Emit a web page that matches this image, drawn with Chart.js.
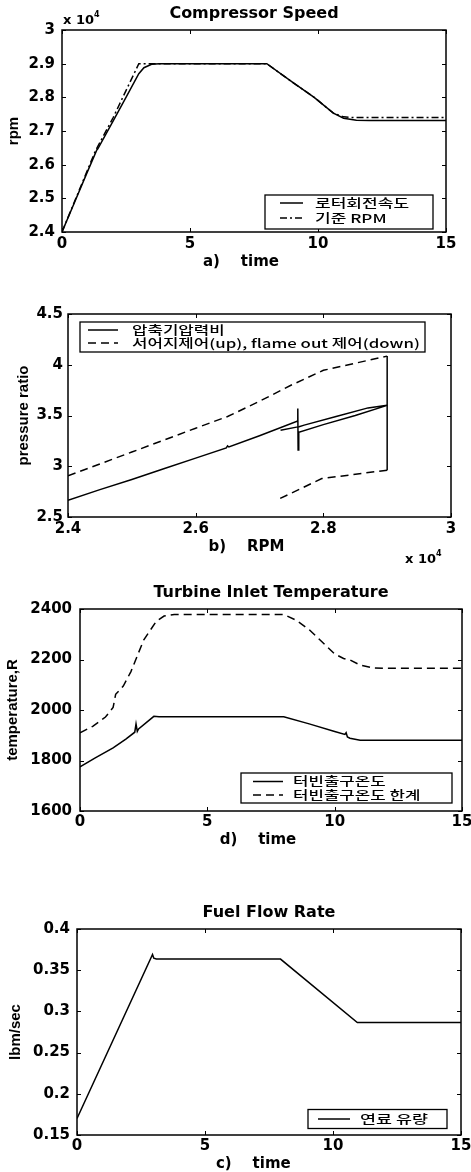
<!DOCTYPE html>
<html><head><meta charset="utf-8">
<script src="https://cdn.jsdelivr.net/npm/chart.js@4.4.0/dist/chart.umd.min.js"></script>
<style>
html,body{margin:0;padding:0;background:#fff;overflow:hidden;width:471px;height:1172px;}
.p{position:absolute;left:0;width:471px;}
canvas{display:block;}
</style></head><body>
<div class="p" style="top:0px"><canvas id="c1" width="471" height="275"></canvas></div>
<div class="p" style="top:290px"><canvas id="c2" width="471" height="280"></canvas></div>
<div class="p" style="top:570px"><canvas id="c3" width="471" height="285"></canvas></div>
<div class="p" style="top:860px"><canvas id="c4" width="471" height="312"></canvas></div>
<script>
// ---------- (a) Compressor Speed ----------
const timeRotor = [0, 0.5, 1.0, 1.36, 1.4, 2.0, 2.5, 3.0, 3.2, 3.5, 3.8, 8.0, 9.0, 9.85, 10.6, 11.0, 11.5, 12.0, 15];
const rpmRotor  = [24000, 24900, 25800, 26440, 26470, 27300, 28000, 28700, 28880, 28980, 29000, 29000, 28450, 28000, 27530, 27380, 27320, 27310, 27310];
const timeRefRpm = [0, 1.3, 2.0, 2.5, 3.0, 8.0, 9.0, 9.85, 10.6, 11.0, 11.4, 15];
const rpmRef     = [24000, 26400, 27400, 28200, 29000, 29000, 28450, 28000, 27530, 27420, 27400, 27400];
const labelsA = ['로터회전속도', '기준 RPM'];

// ---------- (b) pressure ratio vs RPM ----------
const rpmPR = [24000, 24500, 25000, 25500, 26000, 26480, 26500, 26520, 27000, 27600, 27600, 27605, 27615, 28000, 28500, 29000, 28700, 28200, 27700, 27620, 27600, 27330];
const valPR = [2.665, 2.77, 2.87, 2.975, 3.08, 3.18, 3.2, 3.19, 3.3, 3.447, 3.57, 3.16, 3.335, 3.41, 3.50, 3.60, 3.575, 3.49, 3.405, 3.39, 3.388, 3.355];
const rpmLimit = [24000, 25000, 26000, 26500, 27000, 27500, 28000, 28500, 29000, 29000, 27976, 27650, 27320];
const valLimit = [2.906, 3.14, 3.375, 3.49, 3.64, 3.80, 3.945, 4.015, 4.085, 2.961, 2.879, 2.78, 2.682];
const labelsB = ['압축기압력비', '서어지제어(up), flame out 제어(down)'];

// ---------- (d) Turbine Inlet Temperature ----------
const timeTit = [0, 0.6, 1.3, 1.8, 2.15, 2.2, 2.25, 2.3, 2.9, 3.1, 8.0, 9.0, 10.0, 10.4, 10.45, 10.5, 10.6, 11.0, 15];
const valTit  = [1775, 1810, 1850, 1885, 1912, 1945, 1915, 1925, 1975, 1973, 1973, 1945, 1915, 1903, 1910, 1893, 1888, 1880, 1880];
const timeTitLim = [0, 0.5, 1.0, 1.3, 1.4, 1.7, 2.0, 2.5, 3.0, 3.3, 3.7, 8.0, 8.5, 9.0, 9.5, 10.0, 10.35, 10.6, 11.0, 11.5, 12.0, 15];
const valTitLim  = [1910, 1935, 1972, 2010, 2062, 2095, 2152, 2277, 2352, 2372, 2378, 2378, 2355, 2318, 2270, 2222, 2204, 2198, 2178, 2167, 2165, 2165];
const labelsD = ['터빈출구온도', '터빈출구온도 한계'];

// ---------- (c) Fuel Flow Rate ----------
const timeFuel = [0, 2.95, 3.0, 3.1, 7.95, 10.95, 15];
const valFuel  = [0.170, 0.369, 0.3645, 0.3635, 0.3635, 0.2865, 0.2865];
const labelsC = ['연료 유량'];

const pts = (xs, ys) => xs.map((x, i) => ({x, y: ys[i]}));
const fmt = v => String(parseFloat(Number(v).toFixed(4)));
const TICKFONT = {family: '"DejaVu Sans"', weight: 'bold', size: 15};
const XTITLEFONT = {family: '"DejaVu Sans"', weight: 'bold', size: 15, lineHeight: 1};
const YTITLEFONT = {family: '"Liberation Sans Narrow", "Liberation Sans", sans-serif', weight: 'bold', size: 15, lineHeight: 1};
const LEGENDFONT = '500 12px "Noto Sans CJK KR", "Noto Sans", "Liberation Sans", sans-serif';

const framePlugin = {
  id: 'frame',
  afterDatasetsDraw(chart, args, o) {
    const {ctx, chartArea: a, scales: {x, y}} = chart;
    ctx.save();
    ctx.strokeStyle = '#000';
    ctx.lineWidth = 1;
    const L = 4;
    ctx.beginPath();
    x.ticks.forEach(t => {
      const px = Math.round(x.getPixelForValue(t.value)) + 0.5;
      ctx.moveTo(px, a.bottom); ctx.lineTo(px, a.bottom - L);
      ctx.moveTo(px, a.top); ctx.lineTo(px, a.top + L);
    });
    y.ticks.forEach(t => {
      const py = Math.round(y.getPixelForValue(t.value)) + 0.5;
      ctx.moveTo(a.left, py); ctx.lineTo(a.left + L, py);
      ctx.moveTo(a.right, py); ctx.lineTo(a.right - L, py);
    });
    ctx.stroke();
    ctx.lineWidth = 1.5;
    ctx.strokeRect(a.left, a.top, a.right - a.left, a.bottom - a.top);
    ctx.fillStyle = '#000';
    if (o.title) {
      ctx.font = 'bold 16px "DejaVu Sans"';
      ctx.textAlign = 'center';
      ctx.textBaseline = 'middle';
      ctx.fillText(o.title, (a.left + a.right) / 2, o.titleY);
    }
    if (o.exp) {
      ctx.textAlign = 'left';
      ctx.textBaseline = 'alphabetic';
      ctx.font = 'bold 13px "DejaVu Sans"';
      ctx.fillText('x 10', o.exp.x, o.exp.y);
      const w = ctx.measureText('x 10').width;
      ctx.font = 'bold 8px "DejaVu Sans"';
      ctx.fillText('4', o.exp.x + w, o.exp.y - 7);
    }
    const lg = o.legend;
    if (lg) {
      ctx.fillStyle = '#fff';
      ctx.fillRect(lg.x, lg.y, lg.w, lg.h);
      ctx.lineWidth = 1.3;
      ctx.strokeRect(lg.x, lg.y, lg.w, lg.h);
      lg.rows.forEach((ry, i) => {
        const ds = chart.data.datasets[i];
        ctx.lineWidth = ds.borderWidth;
        ctx.setLineDash(ds.borderDash || []);
        ctx.beginPath();
        ctx.moveTo(lg.s1, ry); ctx.lineTo(lg.s2, ry);
        ctx.stroke();
        ctx.setLineDash([]);
        ctx.save();
        ctx.translate(lg.tx, ry);
        ctx.scale(lg.sx, 1);
        ctx.font = LEGENDFONT;
        ctx.fillStyle = '#000';
        ctx.textAlign = 'left';
        ctx.textBaseline = 'middle';
        ctx.fillText(ds.label, 0, 0);
        ctx.restore();
      });
    }
    ctx.restore();
  }
};

function makePanel(id, p) {
  const chartW = 471;
  return new Chart(document.getElementById(id), {
    type: 'scatter',
    data: {datasets: p.datasets.map(d => Object.assign({
      showLine: true, pointRadius: 0, borderColor: '#000', backgroundColor: '#000',
      borderWidth: 1.5, fill: false, tension: 0
    }, d))},
    options: {
      responsive: false, animation: false, events: [],
      layout: {padding: {top: p.area.top, right: chartW - p.area.right, left: 0, bottom: 0}},
      plugins: {
        legend: {display: false}, tooltip: {enabled: false},
        frame: {title: p.title, titleY: p.titleY, exp: p.exp, legend: p.legend}
      },
      scales: {
        x: {
          type: 'linear', min: p.x.min, max: p.x.max,
          grid: {display: false, drawTicks: false}, border: {display: false},
          ticks: {stepSize: p.x.step, color: '#000', font: TICKFONT, padding: p.x.pad, maxRotation: 0,
                  callback: v => fmt(p.x.div ? v / p.x.div : v)},
          title: {display: true, text: p.x.title, color: '#000', font: XTITLEFONT, padding: {top: 0, bottom: p.x.tpad}},
          afterFit(s) { s.height = p.canvasH - p.area.bottom; s.paddingLeft = 0; s.paddingRight = 0; s.paddingTop = 0; s.paddingBottom = 0; }
        },
        y: {
          type: 'linear', min: p.y.min, max: p.y.max,
          grid: {display: false, drawTicks: false}, border: {display: false},
          ticks: {stepSize: p.y.step, color: '#000', font: TICKFONT, padding: p.y.pad,
                  callback: v => fmt(p.y.div ? v / p.y.div : v)},
          title: {display: true, text: p.y.title, color: '#000', font: YTITLEFONT, padding: {top: p.y.tpad, bottom: 0}},
          afterFit(s) { s.width = p.area.left; s.paddingLeft = 0; s.paddingRight = 0; s.paddingTop = 0; s.paddingBottom = 0; }
        }
      }
    },
    plugins: [framePlugin]
  });
}

makePanel('c1', {
  canvasH: 275,
  area: {left: 62, right: 446, top: 30, bottom: 232},
  title: 'Compressor Speed', titleY: 14,
  exp: {x: 63, y: 24},
  x: {min: 0, max: 15, step: 5, pad: 3.5, title: 'a)    time     ', tpad: 5.5},
  y: {min: 24000, max: 30000, step: 1000, div: 10000, pad: 7, title: 'rpm', tpad: 6.5},
  legend: {x: 265, y: 195, w: 168, h: 34, rows: [203, 218], s1: 280, s2: 303, tx: 315, sx: 1.42},
  datasets: [
    {label: labelsA[0], data: pts(timeRotor, rpmRotor)},
    {label: labelsA[1], data: pts(timeRefRpm, rpmRef), borderDash: [7, 3, 2, 3]}
  ]
});

makePanel('c2', {
  canvasH: 280,
  area: {left: 68, right: 451, top: 24, bottom: 227},
  exp: {x: 405, y: 273},
  x: {min: 24000, max: 30000, step: 2000, div: 10000, pad: 3, title: 'b)    RPM     ', tpad: 15},
  y: {min: 2.5, max: 4.5, step: 0.5, pad: 5, title: 'pressure ratio', tpad: 16},
  legend: {x: 80, y: 32, w: 345, h: 30, rows: [40, 53], s1: 88, s2: 118, tx: 132, sx: 1.4},
  datasets: [
    {label: labelsB[0], data: pts(rpmPR, valPR)},
    {label: labelsB[1], data: pts(rpmLimit, valLimit), borderDash: [8, 5],
     segment: {borderDash: c => c.p0.parsed.x === c.p1.parsed.x ? [] : undefined}}
  ]
});

makePanel('c3', {
  canvasH: 285,
  area: {left: 80, right: 462, top: 39, bottom: 241},
  title: 'Turbine Inlet Temperature', titleY: 23,
  x: {min: 0, max: 15, step: 5, pad: 2.5, title: 'd)    time     ', tpad: 7.5},
  y: {min: 1600, max: 2400, step: 200, pad: 8, title: 'temperature,R', tpad: 5.5},
  legend: {x: 241, y: 203, w: 211, h: 30, rows: [211.5, 225], s1: 253, s2: 283, tx: 293, sx: 1.4},
  datasets: [
    {label: labelsD[0], data: pts(timeTit, valTit)},
    {label: labelsD[1], data: pts(timeTitLim, valTitLim), borderDash: [8, 5]}
  ]
});

makePanel('c4', {
  canvasH: 312,
  area: {left: 77, right: 461, top: 69, bottom: 275},
  title: 'Fuel Flow Rate', titleY: 53,
  x: {min: 0, max: 15, step: 5, pad: 2, title: 'c)    time      ', tpad: 0},
  y: {min: 0.15, max: 0.4, step: 0.05, pad: 7, title: 'lbm/sec', tpad: 8},
  legend: {x: 308, y: 249.5, w: 139, h: 19, rows: [259], s1: 318, s2: 350, tx: 360, sx: 1.45},
  datasets: [
    {label: labelsC[0], data: pts(timeFuel, valFuel)}
  ]
});
</script>
</body></html>
